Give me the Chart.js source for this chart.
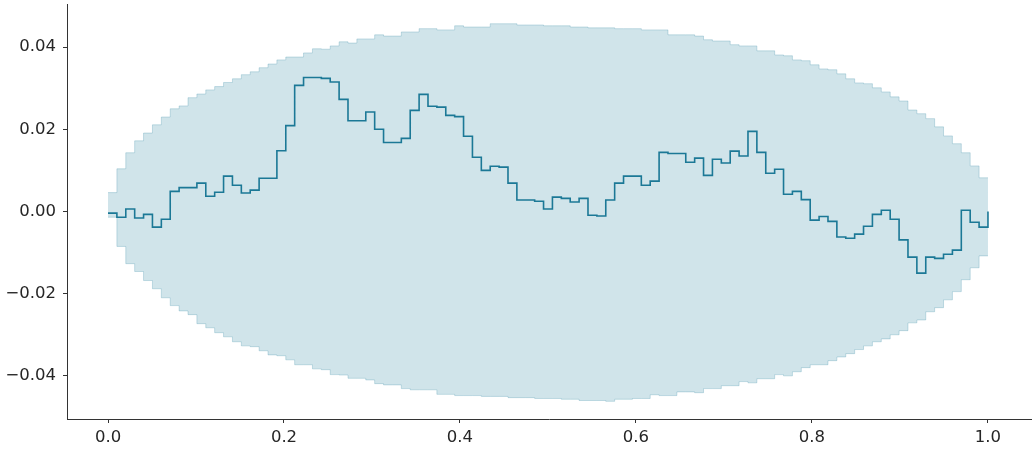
<!DOCTYPE html>
<html>
<head>
<meta charset="utf-8">
<script src="https://cdn.jsdelivr.net/npm/chart.js@4.4.1/dist/chart.umd.min.js"></script>
<style>
  html, body { margin: 0; padding: 0; background: #fff; }
  #wrap { width: 1035px; height: 450px; }
</style>
</head>
<body>
<div id="wrap"><canvas id="chart" width="1035" height="450"></canvas></div>
<script>
// --- Data (grid of 100 steps from 0 to 1) ---
const pathValues = [
  -0.0004, -0.0014, 0.0006, -0.0016, -0.0007, -0.0038, -0.0019, 0.0049, 0.0058, 0.0058,
  0.0069, 0.0037, 0.0047, 0.0086, 0.0064, 0.0045, 0.0052, 0.0081, 0.0081, 0.0148,
  0.0209, 0.0307, 0.0326, 0.0326, 0.0324, 0.0315, 0.0273, 0.0221, 0.0221, 0.0242,
  0.0200, 0.0168, 0.0168, 0.0178, 0.0246, 0.0285, 0.0256, 0.0254, 0.0234, 0.0231,
  0.0183, 0.0132, 0.0100, 0.0110, 0.0108, 0.0069, 0.0028, 0.0028, 0.0025, 0.0006,
  0.0035, 0.0032, 0.0023, 0.0032, -0.0009, -0.0011, 0.0028, 0.0069, 0.0086, 0.0086,
  0.0064, 0.0074, 0.0144, 0.0141, 0.0141, 0.0120, 0.0130, 0.0088, 0.0127, 0.0118,
  0.0147, 0.0135, 0.0195, 0.0144, 0.0093, 0.0103, 0.0042, 0.0049, 0.0029, -0.0021,
  -0.0012, -0.0024, -0.0062, -0.0065, -0.0055, -0.0036, -0.0007, 0.0003, -0.0019, -0.0069,
  -0.0111, -0.0150, -0.0111, -0.0114, -0.0104, -0.0094, 0.0003, -0.0026, -0.0038, 0.0000
];

const bandUpper = [
  0.0046, 0.0104, 0.0143, 0.0172, 0.0191, 0.0211, 0.0230, 0.0250, 0.0257, 0.0277,
  0.0286, 0.0296, 0.0304, 0.0314, 0.0323, 0.0333, 0.0340, 0.0350, 0.0359, 0.0369,
  0.0376, 0.0376, 0.0386, 0.0396, 0.0395, 0.0403, 0.0413, 0.0410, 0.0420, 0.0420,
  0.0430, 0.0427, 0.0427, 0.0437, 0.0437, 0.0445, 0.0445, 0.0442, 0.0442, 0.0452,
  0.0449, 0.0449, 0.0449, 0.0457, 0.0457, 0.0457, 0.0454, 0.0454, 0.0454, 0.0452,
  0.0452, 0.0452, 0.0449, 0.0449, 0.0447, 0.0447, 0.0447, 0.0445, 0.0445, 0.0445,
  0.0442, 0.0442, 0.0442, 0.0430, 0.0430, 0.0430, 0.0427, 0.0418, 0.0415, 0.0415,
  0.0406, 0.0403, 0.0403, 0.0391, 0.0391, 0.0381, 0.0379, 0.0369, 0.0367, 0.0357,
  0.0347, 0.0345, 0.0335, 0.0323, 0.0313, 0.0311, 0.0301, 0.0291, 0.0279, 0.0269,
  0.0247, 0.0238, 0.0226, 0.0206, 0.0184, 0.0165, 0.0143, 0.0111, 0.0082, 0.0082
];

const bandLower = [
  -0.0014, -0.0085, -0.0127, -0.0146, -0.0168, -0.0188, -0.0210, -0.0229, -0.0242, -0.0251,
  -0.0273, -0.0283, -0.0295, -0.0305, -0.0317, -0.0327, -0.0329, -0.0339, -0.0349, -0.0351,
  -0.0361, -0.0373, -0.0373, -0.0383, -0.0385, -0.0397, -0.0398, -0.0406, -0.0406, -0.0410,
  -0.0419, -0.0422, -0.0422, -0.0431, -0.0434, -0.0434, -0.0434, -0.0445, -0.0445, -0.0448,
  -0.0448, -0.0448, -0.0450, -0.0450, -0.0450, -0.0453, -0.0453, -0.0453, -0.0455, -0.0455,
  -0.0455, -0.0457, -0.0457, -0.0460, -0.0460, -0.0460, -0.0462, -0.0457, -0.0457, -0.0455,
  -0.0455, -0.0446, -0.0448, -0.0448, -0.0439, -0.0439, -0.0441, -0.0431, -0.0431, -0.0424,
  -0.0424, -0.0414, -0.0417, -0.0407, -0.0407, -0.0397, -0.0400, -0.0390, -0.0380, -0.0373,
  -0.0373, -0.0363, -0.0354, -0.0346, -0.0336, -0.0327, -0.0317, -0.0310, -0.0300, -0.0290,
  -0.0271, -0.0264, -0.0244, -0.0234, -0.0215, -0.0195, -0.0166, -0.0137, -0.0108, -0.0108
];

const xTicks = [0.0, 0.2, 0.4, 0.6, 0.8, 1.0];
const yTicks = [-0.04, -0.02, 0.00, 0.02, 0.04];

// x grid: evenly spaced from 0 to 1
const xGrid = pathValues.map((_, i) => i / (pathValues.length - 1));
const toPoints = vals => vals.map((v, i) => ({ x: xGrid[i], y: v }));

const lineColor = '#1b7896';
const fillColor = 'rgba(22,120,148,0.2)';
const edgeColor = 'rgba(22,120,148,0.22)';
const axisColor = '#333333';
const fontSpec = { family: 'DejaVu Sans', size: 16.5 };

const fmtMinus = (v, digits) => (v < -1e-9 ? '\u2212' : '') + Math.abs(v).toFixed(digits);

new Chart(document.getElementById('chart'), {
  type: 'line',
  data: {
    datasets: [
      {
        data: toPoints(pathValues),
        stepped: true,
        borderColor: lineColor,
        borderWidth: 1.6,
        pointRadius: 0,
        fill: false
      },
      {
        data: toPoints(bandUpper),
        stepped: true,
        borderColor: edgeColor,
        borderWidth: 1,
        pointRadius: 0,
        backgroundColor: fillColor,
        fill: '+1'
      },
      {
        data: toPoints(bandLower),
        stepped: true,
        borderColor: edgeColor,
        borderWidth: 1,
        pointRadius: 0,
        fill: false
      }
    ]
  },
  options: {
    responsive: false,
    animation: false,
    devicePixelRatio: 1,
    layout: { padding: { top: 4, right: 4, left: 0, bottom: 0 } },
    plugins: { legend: { display: false }, tooltip: { enabled: false } },
    scales: {
      x: {
        type: 'linear',
        min: -0.0466,
        max: 1.0489,
        afterFit: s => { s.height = 31; s.paddingLeft = 0; s.paddingRight = 0; },
        afterBuildTicks: s => { s.ticks = xTicks.map(v => ({ value: v })); },
        grid: { drawOnChartArea: false, drawTicks: true, tickLength: 4, tickColor: axisColor, tickWidth: 1 },
        border: { display: true, color: axisColor, width: 1 },
        ticks: {
          color: '#262626', font: fontSpec, padding: 5, maxRotation: 0,
          callback: v => fmtMinus(v, 1)
        }
      },
      y: {
        type: 'linear',
        min: -0.0505,
        max: 0.0505,
        afterFit: s => { s.width = 67; s.paddingTop = 0; s.paddingBottom = 0; },
        afterBuildTicks: s => { s.ticks = yTicks.map(v => ({ value: v })); },
        grid: { drawOnChartArea: false, drawTicks: true, tickLength: 4, tickColor: axisColor, tickWidth: 1 },
        border: { display: true, color: axisColor, width: 1 },
        ticks: {
          color: '#262626', font: fontSpec, padding: 7,
          callback: v => fmtMinus(v, 2)
        }
      }
    }
  }
});
</script>
</body>
</html>
